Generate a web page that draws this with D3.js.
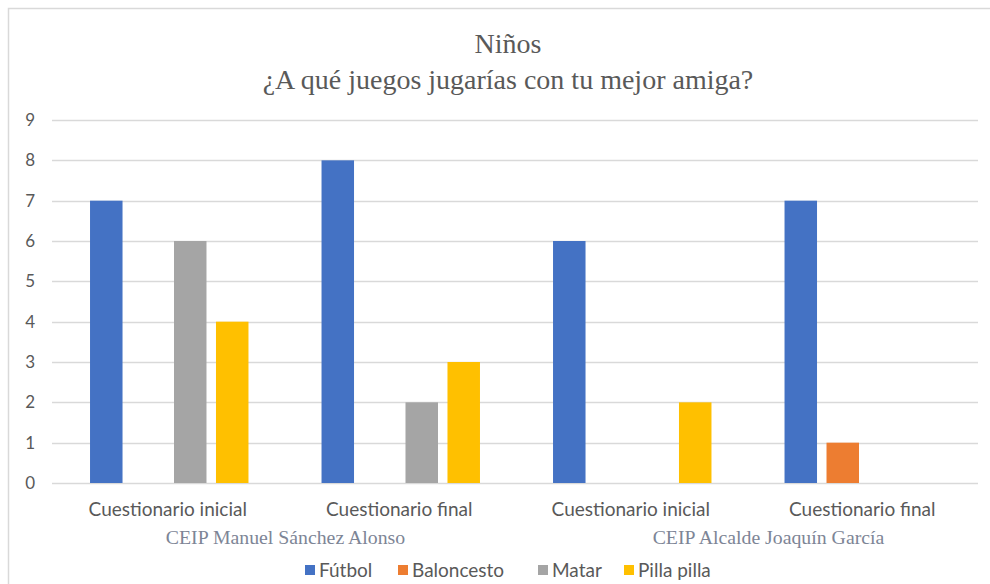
<!DOCTYPE html>
<html><head><meta charset="utf-8">
<script src="https://cdn.jsdelivr.net/npm/d3@7"></script>
<style>body{margin:0;background:#fff}svg{display:block}</style>
</head><body>
<svg id="c" width="990" height="584"></svg>
<script>
const categories = ["Cuestionario inicial","Cuestionario final","Cuestionario inicial","Cuestionario final"];
const schools = ["CEIP Manuel Sánchez Alonso","CEIP Alcalde Joaquín García"];
const series = ["Fútbol","Baloncesto","Matar","Pilla pilla"];
const futbol = [7,8,6,7];
const baloncesto = [0,0,0,1];
const matar = [6,2,0,0];
const pillaPilla = [4,3,2,0];
const colors = ["#4472C4","#ED7D31","#A5A5A5","#FFC000"];
const yTicks = [0,1,2,3,4,5,6,7,8,9];
const titleLines = ["Niños","¿A qué juegos jugarías con tu mejor amiga?"];

const values = [futbol, baloncesto, matar, pillaPilla];
const svg = d3.select("#c");
const W = 990, H = 584;
const m = {l:52, r:12, t:120, b:101};
const sans = "Lato, 'Open Sans', sans-serif";
const serif = "'Liberation Serif', serif";

// frame
svg.append("rect").attr("x",8.5).attr("y",8.5).attr("width",W+10).attr("height",H+10)
  .attr("fill","none").attr("stroke","#d9d9d9").attr("stroke-width",1.5);

const x0 = d3.scaleBand().domain(d3.range(categories.length)).range([m.l, W-m.r]).padding(0);
const x1 = d3.scaleBand().domain(d3.range(series.length)).range([1.5, x0.bandwidth()+1.5])
  .paddingInner(0.226).paddingOuter(0.87);
const y = d3.scaleLinear().domain([0,9]).range([H-m.b, m.t]);

// gridlines
svg.append("g").selectAll("line").data(yTicks).join("line")
  .attr("x1", m.l).attr("x2", W-m.r)
  .attr("y1", d=>Math.round(y(d))+0.5).attr("y2", d=>Math.round(y(d))+0.5)
  .attr("stroke","#d9d9d9").attr("stroke-width",1.3);

// y axis labels
const yAxis = d3.axisLeft(y).tickValues(yTicks).tickSize(0).tickPadding(0);
const ga = svg.append("g").attr("transform",`translate(35,0)`).call(yAxis);
ga.select(".domain").remove();
ga.selectAll("text").attr("font-family",sans).attr("font-size",17)
  .attr("fill","#595959").attr("text-anchor","end");

// bars
series.forEach((s,si)=>{
  svg.append("g").selectAll("rect").data(values[si]).join("rect")
    .attr("x",(d,i)=>x0(i)+x1(si))
    .attr("y",d=>y(d))
    .attr("width",x1.bandwidth())
    .attr("height",d=>y(0)-y(d))
    .attr("fill",colors[si]);
});

// category labels
svg.append("g").selectAll("text").data(categories).join("text")
  .attr("x",(d,i)=>x0(i)+x0.bandwidth()/2).attr("y",516)
  .attr("text-anchor","middle").attr("font-family",sans)
  .attr("font-size",19).attr("fill","#595959").text(d=>d);

// school labels
const schoolOffset = [2, 22];
svg.append("g").selectAll("text").data(schools).join("text")
  .attr("x",(d,i)=>x0(i*2)+x0.bandwidth()+schoolOffset[i]).attr("y",544)
  .attr("text-anchor","middle").attr("font-family",serif)
  .attr("font-size",19.8).attr("fill","#7d8596").text(d=>d);

// title
svg.append("g").selectAll("text").data(titleLines).join("text")
  .attr("x",508).attr("y",(d,i)=>53+i*36)
  .attr("text-anchor","middle").attr("font-family",serif)
  .attr("font-size",28).attr("fill","#595959").text(d=>d);

// legend
const legX = [305, 398, 538, 624];
const lg = svg.append("g").selectAll("g").data(series).join("g")
  .attr("transform",(d,i)=>`translate(${legX[i]},565)`);
lg.append("rect").attr("width",10).attr("height",10).attr("fill",(d,i)=>colors[i]);
lg.append("text").attr("x",14).attr("y",12).attr("font-family",sans)
  .attr("font-size",19).attr("fill","#595959").text(d=>d);
</script>
</body></html>
